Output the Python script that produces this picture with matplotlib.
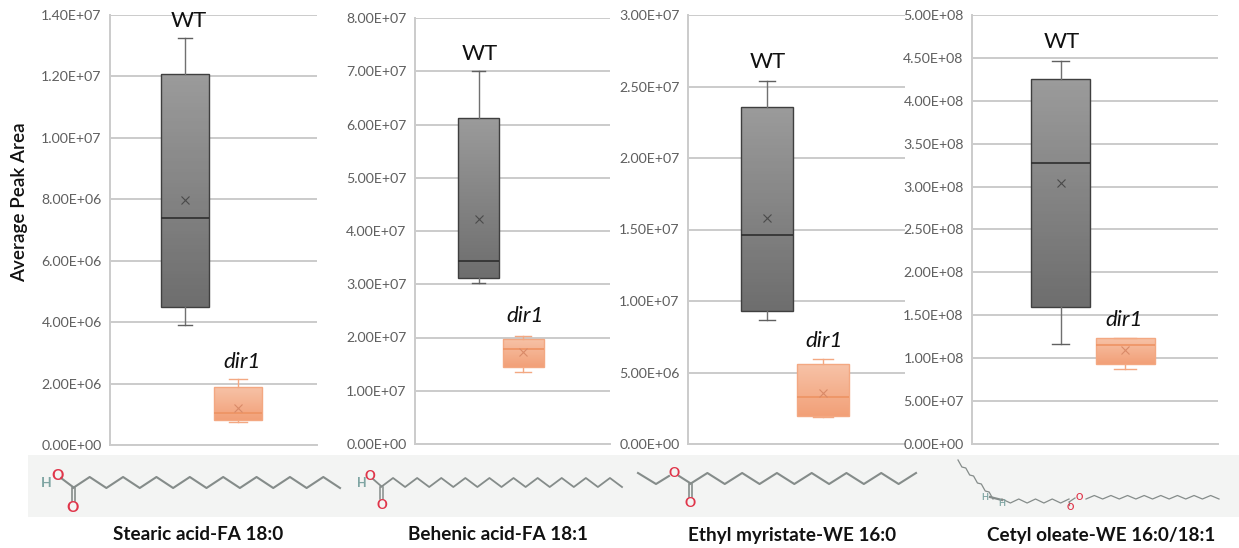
"""
Peak areas of four lipids, WT against dir1, with the structures below.
"""
import matplotlib
matplotlib.use("Agg")
import matplotlib.pyplot as plt
import numpy as np
from matplotlib.colors import LinearSegmentedColormap

W, H = 1239, 548

lipids = ["Stearic acid-FA 18:0", "Behenic acid-FA 18:1", "Ethyl myristate-WE 16:0", "Cetyl oleate-WE 16:0/18:1"]
groups = ["WT", "dir1"]

# whisker low, q1, median, q3, whisker high, mean
stearic_wt = [3.92e6, 4.5e6, 7.39e6, 12.08e6, 13.25e6, 7.98e6]
stearic_dir1 = [0.75e6, 0.8e6, 1.04e6, 1.9e6, 2.15e6, 1.2e6]
behenic_wt = [3.02e7, 3.11e7, 3.43e7, 6.12e7, 7.0e7, 4.23e7]
behenic_dir1 = [1.36e7, 1.45e7, 1.79e7, 1.98e7, 2.03e7, 1.73e7]
myristate_wt = [0.867e7, 0.93e7, 1.46e7, 2.356e7, 2.54e7, 1.58e7]
myristate_dir1 = [1.9e6, 1.96e6, 3.3e6, 5.6e6, 5.94e6, 3.55e6]
oleate_wt = [1.17e8, 1.6e8, 3.28e8, 4.25e8, 4.46e8, 3.04e8]
oleate_dir1 = [0.875e8, 0.93e8, 1.15e8, 1.235e8, 1.235e8, 1.1e8]

tops = [1.4e7, 8e7, 3e7, 5e8]
steps = [2e6, 1e7, 5e6, 5e7]

# panel layout in pixels: left, right, top, bottom, wt centre, dir1 centre, box width
panels = [
    (110, 317, 15, 445, 185, 238, 48),
    (415, 610, 18, 444, 478.5, 523, 41),
    (688, 905, 15, 444, 767, 823, 52),
    (972, 1218, 15, 444, 1060.5, 1125, 59),
]
# label anchors in pixels
wt_labels = [(189, 21), (480, 54), (768, 62), (1062, 42)]
dir1_labels = [(242, 362), (525, 316), (824, 341), (1124, 320)]
name_x = [198, 498, 792, 1101]

plt.rcParams["font.family"] = ["Lato", "DejaVu Sans"]
GRID = "#cbcbcb"
TICK = "#5f5f5f"
BOND = "#858c8a"
RED = "#e0354a"
TEAL = "#7fa5a3"

wt_map = LinearSegmentedColormap.from_list("wt", ["#9b9b9b", "#6e6e6e"])
dir1_map = LinearSegmentedColormap.from_list("dir1", ["#f7c3a8", "#f2a078"])


def draw_panel(fig, layout, wt, dir1, top, step):
    left, right, y_top, y_bottom, c_wt, c_dir1, width = layout
    ax = fig.add_axes([left / W, 1 - y_bottom / H, (right - left) / W, (y_bottom - y_top) / H])
    ax.set_facecolor("none")
    styles = [("#3f3f3f", "#555555", "#4a4a4a", wt_map, 0.3), ("#f3a882", "#ee9363", "#d98a68", dir1_map, 0.38)]
    for values, centre, style in zip([wt, dir1], [c_wt, c_dir1], styles):
        edge, med, mean_col, cmap, cap = style
        stat = dict(whislo=values[0], q1=values[1], med=values[2], q3=values[3], whishi=values[4], mean=values[5], fliers=[])
        res = ax.bxp(
            [stat], positions=[centre], widths=[width], capwidths=[width * cap],
            patch_artist=True, showmeans=True, showfliers=False, zorder=3,
            boxprops=dict(facecolor="none", edgecolor=edge, linewidth=1),
            medianprops=dict(color=med if cmap is dir1_map else "#2e2e2e", linewidth=1.2),
            whiskerprops=dict(color="#707070" if cmap is wt_map else edge, linewidth=1),
            capprops=dict(color="#606060" if cmap is wt_map else edge, linewidth=1),
            meanprops=dict(marker="x", markeredgecolor=mean_col, markersize=6, markeredgewidth=0.8),
        )
        grad = ax.imshow(
            np.linspace(0, 1, 64).reshape(-1, 1), cmap=cmap, aspect="auto", zorder=2.5,
            extent=[centre - width / 2, centre + width / 2, values[1], values[3]],
        )
        grad.set_clip_path(res["boxes"][0])
    ax.set_xlim(left, right)
    ax.set_ylim(0, top)
    ticks = np.arange(0, top + step / 2, step)
    ax.set_yticks(ticks)
    ax.set_yticklabels(["%.2E" % t for t in ticks], color=TICK, fontsize=10.2)
    ax.set_xticks([])
    ax.tick_params(axis="y", length=0, pad=6)
    ax.grid(axis="y", color=GRID, linewidth=1.4, zorder=0)
    ax.set_axisbelow(True)
    for side in ["top", "right"]:
        ax.spines[side].set_visible(False)
    for side in ["left", "bottom"]:
        ax.spines[side].set_color(GRID)
        ax.spines[side].set_linewidth(1.4)
    return ax


def zigzag(x0, y0, x1, y1, n_bonds, amp):
    # carbon chain between two anchors, alternating around the straight line
    xs = np.linspace(x0, x1, n_bonds + 1)
    ys = np.linspace(y0, y1, n_bonds + 1)
    ys = ys + amp * (np.arange(n_bonds + 1) % 2)
    return xs, ys


def atom(ov, x, y, s, color, size=10):
    ov.text(x, y, s, color=color, fontsize=size, fontweight="bold", ha="center", va="center", zorder=5)


def draw_structures(ov):
    ov.fill_between([28, W], 455, 517, color="#f3f4f3", lw=0, zorder=0)

    # stearic acid
    xs, ys = zigzag(73, 488, 340, 488, 16, -11)
    ov.plot(xs, ys, color=BOND, lw=1.5)
    ov.plot([61, 73], [478, 487], color=BOND, lw=1.5)
    ov.plot([71.5, 71.5], [488, 501], color=BOND, lw=1.2)
    ov.plot([74.5, 74.5], [488, 501], color=BOND, lw=1.2)
    atom(ov, 58, 476, "O", RED, 11)
    atom(ov, 46, 483, "H", TEAL, 10)
    atom(ov, 73, 508, "O", RED, 11)

    # behenic acid
    xs, ys = zigzag(381, 487, 622, 487, 20, -9)
    ov.plot(xs, ys, color=BOND, lw=1.3)
    ov.plot([373, 381], [479, 486], color=BOND, lw=1.3)
    ov.plot([379.5, 379.5], [487, 499], color=BOND, lw=1.1)
    ov.plot([382.5, 382.5], [487, 499], color=BOND, lw=1.1)
    atom(ov, 370, 476, "O", RED, 9.5)
    atom(ov, 362, 483, "H", TEAL, 9)
    atom(ov, 382, 505, "O", RED, 9.5)

    # ethyl myristate
    xs, ys = zigzag(690, 484, 916, 484, 13, -11)
    ov.plot(xs, ys, color=BOND, lw=1.5)
    ov.plot([638, 656, 669], [473, 484, 476], color=BOND, lw=1.5)
    ov.plot([679, 690], [476, 483], color=BOND, lw=1.5)
    ov.plot([688.5, 688.5], [484, 497], color=BOND, lw=1.2)
    ov.plot([691.5, 691.5], [484, 497], color=BOND, lw=1.2)
    atom(ov, 674, 473, "O", RED, 10)
    atom(ov, 690, 503, "O", RED, 10)

    # cetyl oleate
    xs, ys = zigzag(958, 460, 993, 496, 9, 3)
    ov.plot(xs, ys, color=BOND, lw=0.9)
    ov.plot([990, 1002], [497, 500], color=BOND, lw=1.6)
    xs, ys = zigzag(1002, 499, 1069, 499, 8, 4)
    ov.plot(xs, ys, color=BOND, lw=0.9)
    xs, ys = zigzag(1086, 499, 1219, 499, 16, -3.5)
    ov.plot(xs, ys, color=BOND, lw=0.9)
    ov.plot([1069, 1075], [502, 498], color=BOND, lw=0.9)
    ov.plot([1069, 1069], [502, 505], color=BOND, lw=0.9)
    atom(ov, 1079, 497, "O", RED, 6.5)
    atom(ov, 1070, 507, "O", RED, 6.5)
    atom(ov, 985, 498, "H", TEAL, 6.5)
    atom(ov, 1002, 504, "H", TEAL, 6.5)


fig = plt.figure(figsize=(W / 100, H / 100), dpi=100)

series = [
    (stearic_wt, stearic_dir1),
    (behenic_wt, behenic_dir1),
    (myristate_wt, myristate_dir1),
    (oleate_wt, oleate_dir1),
]
for layout, (wt, dir1), top, step in zip(panels, series, tops, steps):
    draw_panel(fig, layout, wt, dir1, top, step)

# overlay in pixel coordinates for structures and labels
ov = fig.add_axes([0, 0, 1, 1], zorder=10)
ov.set_xlim(0, W)
ov.set_ylim(H, 0)
ov.axis("off")
draw_structures(ov)

for (x, y), name in zip(wt_labels, [groups[0]] * 4):
    ov.text(x, y, name, fontsize=16, ha="center", va="center", color="#111111")
for (x, y), name in zip(dir1_labels, [groups[1]] * 4):
    ov.text(x, y, name, fontsize=16, style="italic", ha="center", va="center", color="#111111")
for x, name in zip(name_x, lipids):
    ov.text(x, 535, name, fontsize=13.6, fontweight="bold", ha="center", va="center", color="#111111")
ov.text(20, 202, "Average Peak Area", fontsize=13.6, fontweight="semibold", rotation=90, ha="center", va="center", color="#111111")

fig.savefig("out.png", dpi=100)
